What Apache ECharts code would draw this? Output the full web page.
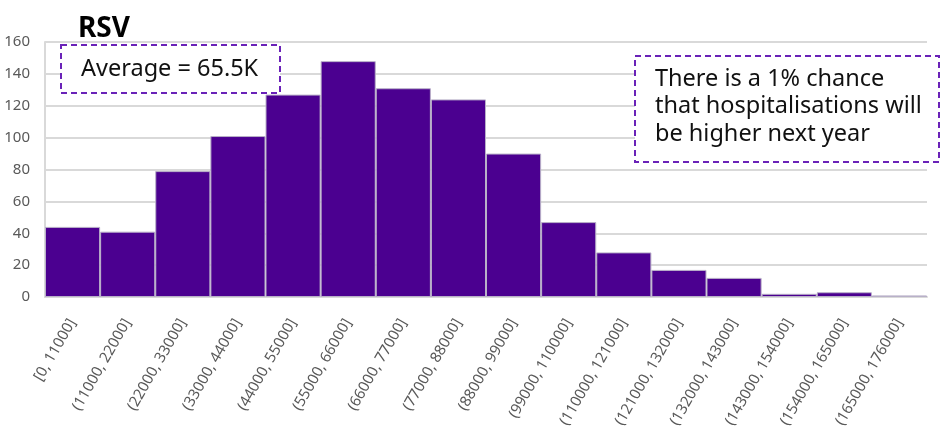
<!DOCTYPE html>
<html>
<head>
<meta charset="utf-8">
<script src="https://cdn.jsdelivr.net/npm/echarts@6/dist/echarts.min.js"></script>
<style>
html,body{margin:0;padding:0;background:#fff;}
#chart{width:947px;height:432px;}
</style>
</head>
<body>
<div id="chart"></div>
<script>
var categories = ["[0, 11000]","(11000, 22000]","(22000, 33000]","(33000, 44000]","(44000, 55000]","(55000, 66000]","(66000, 77000]","(77000, 88000]","(88000, 99000]","(99000, 110000]","(110000, 121000]","(121000, 132000]","(132000, 143000]","(143000, 154000]","(154000, 165000]","(165000, 176000]"];
var counts = [44, 41, 79, 101, 127, 148, 131, 124, 90, 47, 28, 17, 12, 2, 3, 1];
var yTicks = [0, 20, 40, 60, 80, 100, 120, 140, 160];
var titleText = "RSV";
var averageText = "Average = 65.5K";
var noteLines = ["There is a 1% chance", "that hospitalisations will", "be higher next year"];

var chart = echarts.init(document.getElementById('chart'), null, {renderer: 'canvas'});
var font = '"Noto Sans", "Open Sans", sans-serif';
var annFont = '23.5px "Noto Sans", sans-serif';
var graphics = [
  {type: 'rect', z: 100, shape: {x: 61, y: 45, width: 219, height: 48},
   style: {fill: '#ffffff', stroke: '#6a22b8', lineWidth: 2, lineDash: [6, 4]}},
  {type: 'text', z: 101, style: {x: 81, y: 69, text: averageText, font: annFont, fill: '#111', verticalAlign: 'middle'}},
  {type: 'rect', z: 100, shape: {x: 635, y: 56, width: 304, height: 106},
   style: {fill: '#ffffff', stroke: '#6a22b8', lineWidth: 2, lineDash: [6, 4]}}
];
noteLines.forEach(function (line, i) {
  graphics.push({type: 'text', z: 101,
    style: {x: 655, y: 79 + i * 27.5, text: line, font: annFont, fill: '#111', verticalAlign: 'middle'}});
});

chart.setOption({
  animation: false,
  backgroundColor: '#ffffff',
  title: {
    text: titleText,
    left: 73, top: 10,
    textStyle: {fontFamily: font, fontSize: 28, fontWeight: 'bold', color: '#000'}
  },
  grid: {left: 45, right: 20, top: 42, bottom: 135, containLabel: false},
  xAxis: {
    type: 'category',
    data: categories,
    axisLine: {show: true, lineStyle: {color: '#d9d9d9', width: 2}},
    axisTick: {show: false},
    axisLabel: {rotate: 60, margin: 23, fontFamily: font, fontSize: 15, color: '#595959', interval: 0}
  },
  yAxis: {
    type: 'value',
    min: yTicks[0], max: yTicks[yTicks.length - 1], interval: 20,
    axisLine: {show: true, lineStyle: {color: '#d9d9d9', width: 2}},
    axisTick: {show: false},
    axisLabel: {fontFamily: font, fontSize: 15, color: '#595959', margin: 15},
    splitLine: {lineStyle: {color: '#d9d9d9', width: 2}}
  },
  series: [{
    type: 'bar',
    data: counts,
    barCategoryGap: 0,
    itemStyle: {color: '#4b0090', borderColor: '#b9b0c8', borderWidth: 1}
  }],
  graphic: graphics
});
</script>
</body>
</html>
